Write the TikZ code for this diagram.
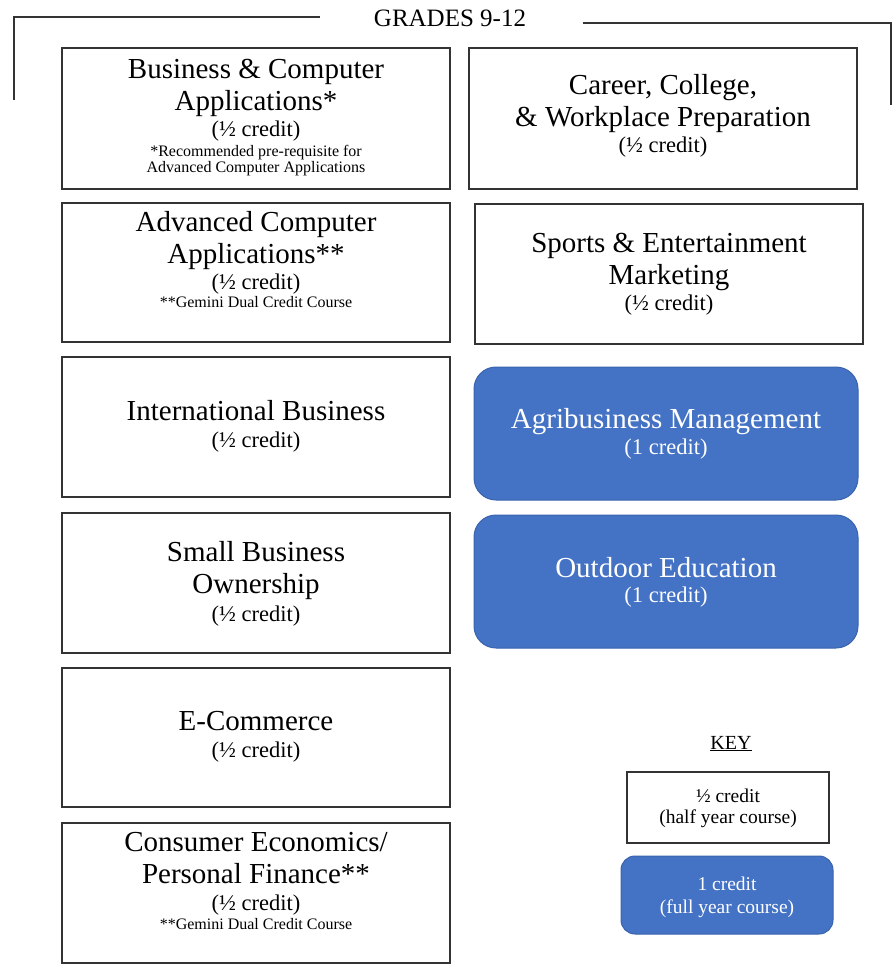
\documentclass[tikz,border=0pt]{standalone}
\usepackage{fontspec}
\setmainfont{Liberation Serif}
\definecolor{boxblue}{HTML}{4472C4}
\definecolor{blueedge}{HTML}{3A63AD}
\definecolor{linegray}{HTML}{333333}
\begin{document}
\begin{tikzpicture}[x=1pt,y=-1pt,
  frame/.style={draw=linegray, line width=1.5pt},
  halfbox/.style={draw=linegray, line width=1.5pt, fill=white, inner sep=0pt},
  fullbox/.style={draw=blueedge, line width=1pt, fill=boxblue, rounded corners=22pt, inner sep=0pt},
  keyfull/.style={fullbox, rounded corners=14pt},
  maintext/.style={anchor=base, inner sep=0pt, font=\fontsize{29}{32}\selectfont},
  credittext/.style={anchor=base, inner sep=0pt, font=\fontsize{22.5}{26}\selectfont},
  notetext/.style={anchor=base, inner sep=0pt, font=\fontsize{16}{18}\selectfont},
  keytext/.style={anchor=base, inner sep=0pt, font=\fontsize{19.5}{22}\selectfont},
  headtext/.style={anchor=base, inner sep=0pt, font=\fontsize{25}{28}\selectfont},
  onwhite/.style={text=white}
]
\useasboundingbox (0,0) rectangle (893,968);

% header frame
\coordinate (hl1) at (14,100);
\coordinate (hl2) at (14,17);
\coordinate (hl3) at (320,17);
\coordinate (hr1) at (583,23);
\coordinate (hr2) at (891,23);
\coordinate (hr3) at (891,105);
\draw[frame] (hl1) -- (hl2) -- (hl3);
\draw[frame] (hr1) -- (hr2) -- (hr3);
\node[headtext] (grades) at (450,27) {GRADES 9-12};

% left column boxes
\node[halfbox, minimum width=388pt, minimum height=141pt] (bca) at (256,118.5) {};
\node[halfbox, minimum width=388pt, minimum height=139pt] (aca) at (256,272.5) {};
\node[halfbox, minimum width=388pt, minimum height=140pt] (ib) at (256,427) {};
\node[halfbox, minimum width=388pt, minimum height=140pt] (sbo) at (256,583) {};
\node[halfbox, minimum width=388pt, minimum height=139pt] (ec) at (256,737.5) {};
\node[halfbox, minimum width=388pt, minimum height=140pt] (cepf) at (256,893) {};

% right column boxes
\node[halfbox, minimum width=388pt, minimum height=141pt] (ccw) at (663,118.5) {};
\node[halfbox, minimum width=388pt, minimum height=140pt] (sem) at (669,274) {};
\node[fullbox, minimum width=384pt, minimum height=133pt] (agm) at (666,433.5) {};
\node[fullbox, minimum width=384pt, minimum height=133pt] (ode) at (666,581.5) {};

% key
\node[keytext, font=\fontsize{20}{22}\selectfont] (key) at (731,749) {\underline{KEY}};
\node[halfbox, minimum width=202pt, minimum height=71pt] (khalf) at (728,807.5) {};
\node[keyfull, minimum width=212pt, minimum height=78pt] (kfull) at (727,895) {};

% texts: left column
\node[maintext] (bca1) at (256,79) {Business \& Computer};
\node[maintext] (bca2) at (256,111) {Applications*};
\node[credittext] (bca3) at (256,137) {(½ credit)};
\node[notetext] (bca4) at (256,157) {*Recommended pre-requisite for};
\node[notetext] (bca5) at (256,173) {Advanced Computer Applications};

\node[maintext] (aca1) at (256,232) {Advanced Computer};
\node[maintext] (aca2) at (256,263) {Applications**};
\node[credittext] (aca3) at (256,289) {(½ credit)};
\node[notetext] (aca4) at (256,307) {**Gemini Dual Credit Course};

\node[maintext] (ib1) at (256,420) {International Business};
\node[credittext] (ib2) at (256,447) {(½ credit)};

\node[maintext] (sbo1) at (256,561) {Small Business};
\node[maintext] (sbo2) at (256,593) {Ownership};
\node[credittext] (sbo3) at (256,621) {(½ credit)};

\node[maintext] (ec1) at (256,730) {E-Commerce};
\node[credittext] (ec2) at (256,757) {(½ credit)};

\node[maintext] (cepf1) at (256,851) {Consumer Economics/};
\node[maintext] (cepf2) at (256,883) {Personal Finance**};
\node[credittext] (cepf3) at (256,910) {(½ credit)};
\node[notetext] (cepf4) at (256,929) {**Gemini Dual Credit Course};

% texts: right column
\node[maintext] (ccw1) at (663,95) {Career, College,};
\node[maintext] (ccw2) at (663,127) {\& Workplace Preparation};
\node[credittext] (ccw3) at (663,153) {(½ credit)};

\node[maintext] (sem1) at (669,252) {Sports \& Entertainment};
\node[maintext] (sem2) at (669,284) {Marketing};
\node[credittext] (sem3) at (669,310) {(½ credit)};

\node[maintext, onwhite] (agm1) at (666,428) {Agribusiness Management};
\node[credittext, onwhite] (agm2) at (666,454) {(1 credit)};

\node[maintext, onwhite] (ode1) at (666,577) {Outdoor Education};
\node[credittext, onwhite] (ode2) at (666,602) {(1 credit)};

% key texts
\node[keytext] (kh1) at (728,802) {½ credit};
\node[keytext] (kh2) at (728,823) {(half year course)};
\node[keytext, onwhite] (kf1) at (727,890) {1 credit};
\node[keytext, onwhite] (kf2) at (727,913) {(full year course)};
\end{tikzpicture}
\end{document}
